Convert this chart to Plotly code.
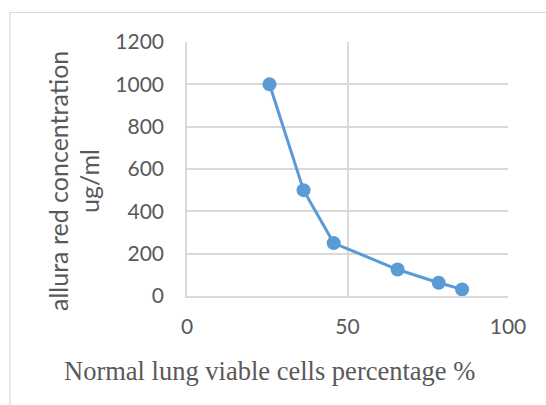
import plotly.graph_objects as go

viable_pct = [25.7, 36.3, 45.7, 65.6, 78.4, 85.7]
concentration = [1000, 500, 250, 125, 62.5, 31.25]
x_ticks = [0, 50, 100]
y_ticks = [0, 200, 400, 600, 800, 1000, 1200]

W, H = 546, 405
L, R, T, B = 187, 38, 42, 109
pw, ph = W - L - R, H - T - B

def px(xpix):
    return (xpix - L) / pw

def py(ypix):
    return (H - B - ypix) / ph

fig = go.Figure()
fig.add_trace(go.Scatter(
    x=viable_pct, y=concentration, mode="lines+markers",
    line=dict(color="#5b9bd5", width=3),
    marker=dict(color="#5b9bd5", size=14),
    showlegend=False,
))

grid = "#d9d9d9"
tickfont = dict(family="Lato", size=21, color="#595959")
fig.update_xaxes(
    range=[0, 100], tickvals=x_ticks, showgrid=True, gridcolor=grid, gridwidth=1.5,
    zeroline=False, showline=True, linecolor=grid, linewidth=1.5,
    ticks="", tickfont=tickfont, ticklabelstandoff=11,
)
fig.update_yaxes(
    range=[0, 1200], tickvals=y_ticks, showgrid=True, gridcolor=grid, gridwidth=1.5,
    zeroline=False, showline=True, linecolor=grid, linewidth=1.5,
    ticks="", tickfont=tickfont, ticklabelstandoff=17,
)

annotations = [
    dict(text="allura red concentration", textangle=-90, x=px(58), y=py(181),
         xref="paper", yref="paper", showarrow=False, xanchor="center", yanchor="middle",
         font=dict(family="Lato", size=25, color="#595959")),
    dict(text="ug/ml", textangle=-90, x=px(89), y=py(181),
         xref="paper", yref="paper", showarrow=False, xanchor="center", yanchor="middle",
         font=dict(family="Lato", size=25, color="#595959")),
    dict(text="Normal lung viable cells percentage %", x=px(269.5), y=py(371),
         xref="paper", yref="paper", showarrow=False, xanchor="center", yanchor="middle",
         font=dict(family="Liberation Serif", size=26.5, color="#595959")),
]

fig.update_layout(
    width=W, height=H, margin=dict(l=L, r=R, t=T, b=B),
    paper_bgcolor="white", plot_bgcolor="white",
    annotations=annotations,
    shapes=[dict(type="rect", xref="paper", yref="paper",
                 x0=px(10), x1=px(560), y0=py(12.5), y1=py(430),
                 line=dict(color=grid, width=1.2), layer="below")],
)

fig.write_html("out.html")
